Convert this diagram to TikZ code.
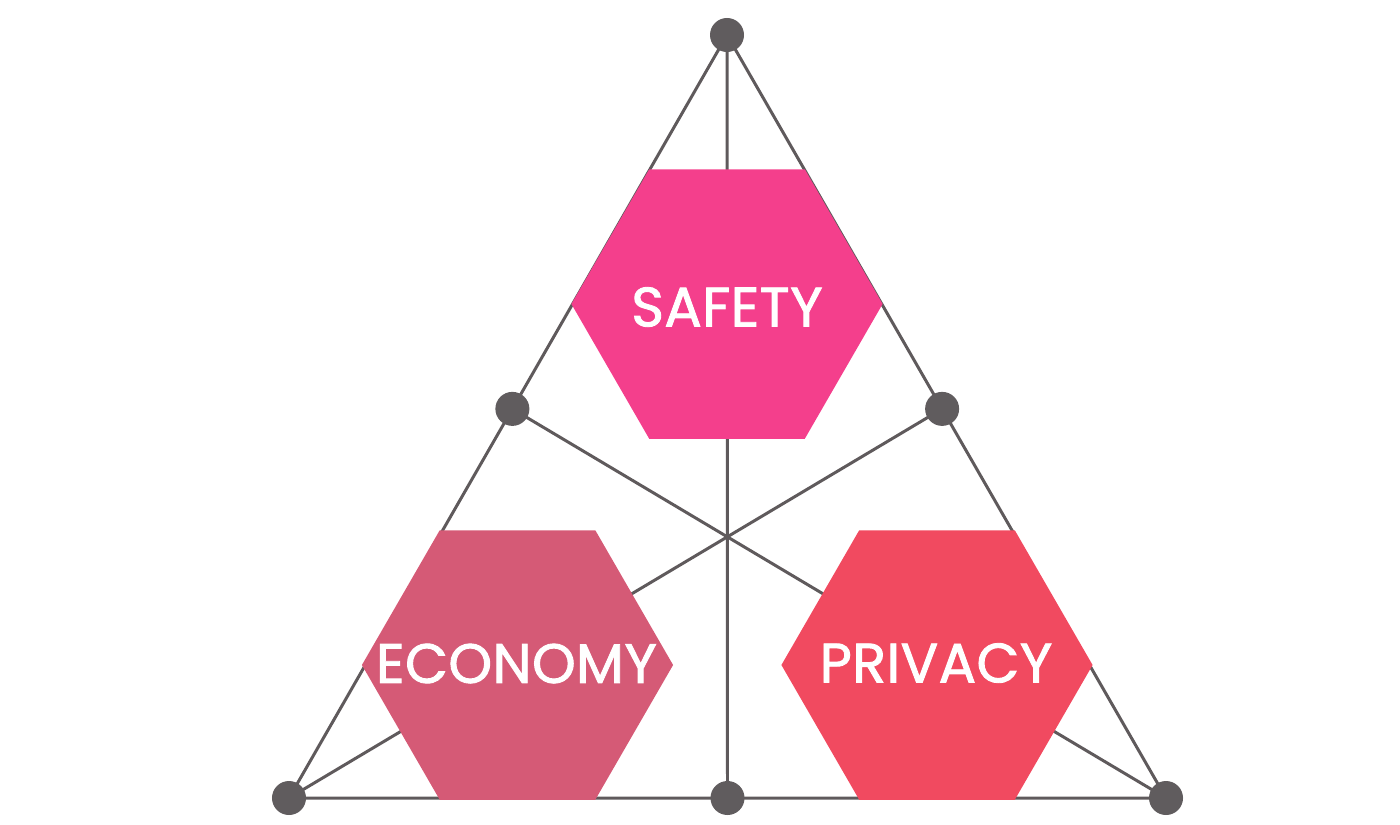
\documentclass[tikz,border=0pt]{standalone}
\usepackage{fontspec}
\setmainfont{Poppins}
\newfontfamily\hexfont[FakeBold=1.6, LetterSpace=0.8]{Poppins}
\usetikzlibrary{shapes.geometric, calc}
\definecolor{linegray}{HTML}{5F5A5C}
\definecolor{dotgray}{HTML}{605C5E}
\definecolor{safetypink}{HTML}{F43F8C}
\definecolor{economyrose}{HTML}{D55A76}
\definecolor{privacyred}{HTML}{F14A60}
\begin{document}
\begin{tikzpicture}[x=0.01cm, y=-0.01cm,
    edge/.style={draw=linegray, line width=0.85pt},
    hexbox/.style={regular polygon, regular polygon sides=6, minimum size=3.11cm, inner sep=0pt},
    hextext/.style={text=white, inner sep=0pt, font=\hexfont\fontsize{15.8}{18}\selectfont},
    dot/.style={circle, fill=dotgray, minimum size=0.34cm, inner sep=0pt}]
    \useasboundingbox (0,0) rectangle (1400,824);

    % Triangle corners and side points
    \coordinate (top) at (727,35);
    \coordinate (left) at (289,798);
    \coordinate (right) at (1166,798);
    \coordinate (midleft) at ($(top)!0.49!(left)$);
    \coordinate (midright) at ($(top)!0.49!(right)$);
    \coordinate (midbottom) at ($(left)!0.5!(right)$);

    % Outline and medians
    \draw[edge] (top) -- (left) -- (right) -- cycle;
    \draw[edge] (top) -- (midbottom);
    \draw[edge] (left) -- (midright);
    \draw[edge] (right) -- (midleft);

    % Hexagons
    \node[hexbox, fill=safetypink] (safety) at (727,304) {};
    \node[hextext] (safetylabel) at (727,307) {SAFETY};
    \node[hexbox, fill=economyrose] (economy) at (517.5,665) {};
    \node[hextext] (economylabel) at (516.5,663.5) {ECONOMY};
    \node[hexbox, fill=privacyred] (privacy) at (937,665) {};
    \node[hextext] (privacylabel) at (936,663) {PRIVACY};

    % Dots
    \foreach \p in {top, left, right, midleft, midright, midbottom}
        \node[dot] (dot-\p) at (\p) {};
\end{tikzpicture}
\end{document}
